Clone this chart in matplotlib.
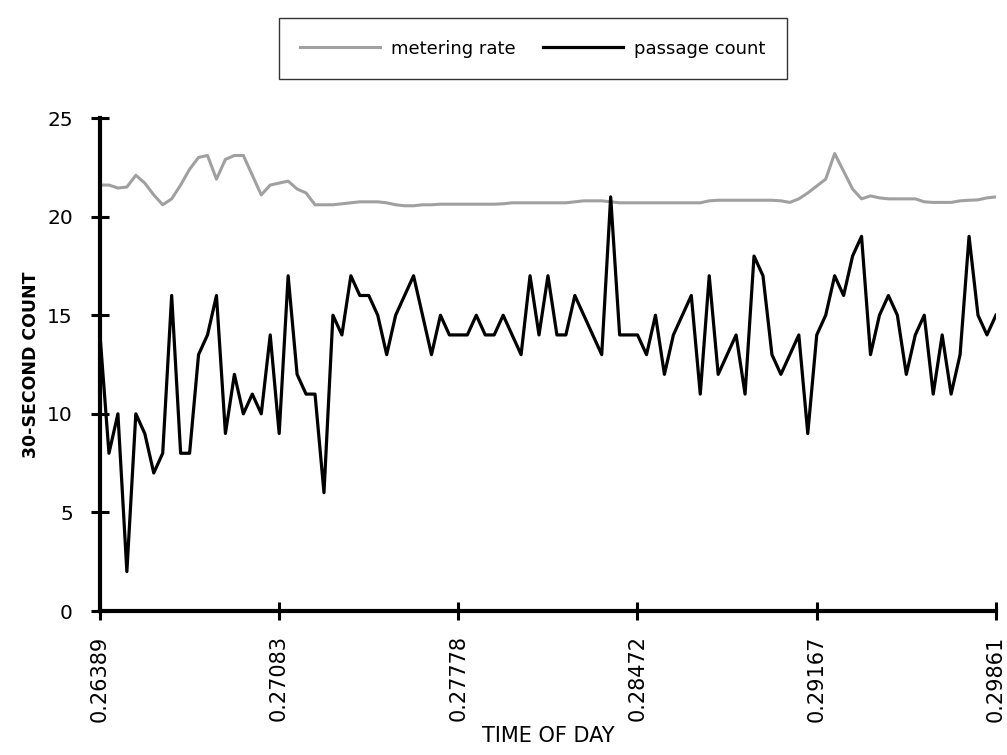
import numpy as np
import matplotlib
matplotlib.use('Agg')
import matplotlib.pyplot as plt

# 30-second samples from 6:20 to 7:10 (time of day as a fraction of a day)
start_time = 380 / 1440
interval = 30 / 86400
passage_count = [14, 8, 10, 2, 10, 9, 7, 8, 16, 8,
                 8, 13, 14, 16, 9, 12, 10, 11, 10, 14,
                 9, 17, 12, 11, 11, 6, 15, 14, 17, 16,
                 16, 15, 13, 15, 16, 17, 15, 13, 15, 14,
                 14, 14, 15, 14, 14, 15, 14, 13, 17, 14,
                 17, 14, 14, 16, 15, 14, 13, 21, 14, 14,
                 14, 13, 15, 12, 14, 15, 16, 11, 17, 12,
                 13, 14, 11, 18, 17, 13, 12, 13, 14, 9,
                 14, 15, 17, 16, 18, 19, 13, 15, 16, 15,
                 12, 14, 15, 11, 14, 11, 13, 19, 15, 14,
                 15]
metering_rate = [21.6, 21.6, 21.45, 21.5, 22.1, 21.7, 21.1, 20.6, 20.9, 21.6,
                 22.4, 23.0, 23.1, 21.9, 22.9, 23.1, 23.1, 22.1, 21.1, 21.6,
                 21.7, 21.8, 21.4, 21.2, 20.6, 20.6, 20.6, 20.65, 20.7, 20.75,
                 20.75, 20.75, 20.7, 20.6, 20.55, 20.55, 20.6, 20.6, 20.63, 20.63,
                 20.63, 20.63, 20.63, 20.63, 20.63, 20.65, 20.7, 20.7, 20.7, 20.7,
                 20.7, 20.7, 20.7, 20.75, 20.8, 20.8, 20.8, 20.75, 20.7, 20.7,
                 20.7, 20.7, 20.7, 20.7, 20.7, 20.7, 20.7, 20.7, 20.8, 20.83,
                 20.83, 20.83, 20.83, 20.83, 20.83, 20.83, 20.8, 20.72, 20.9, 21.2,
                 21.55, 21.9, 23.2, 22.3, 21.4, 20.9, 21.05, 20.95, 20.9, 20.9,
                 20.9, 20.9, 20.75, 20.72, 20.72, 20.72, 20.8, 20.83, 20.85, 20.95,
                 21.0]
tick_labels = ['0.26389', '0.27083', '0.27778', '0.28472', '0.29167', '0.29861']
y_ticks = [0, 5, 10, 15, 20, 25]

times = start_time + interval * np.arange(len(passage_count))

fig = plt.figure(figsize=(10.07, 7.55), dpi=100)
ax = fig.add_axes([0.0993, 0.1907, 0.8897, 0.653])

ax.plot(times, metering_rate, color='#a0a0a0', linewidth=2.2, label='metering rate')
ax.plot(times, passage_count, color='black', linewidth=2.3, label='passage count')

ax.set_xlim(times[0], times[-1])
ax.set_ylim(0, 25)
ax.set_xticks([float(t) for t in tick_labels])
ax.set_xticklabels(tick_labels, rotation=90, fontsize=15)
ax.set_yticks(y_ticks)
ax.set_yticklabels([str(v) for v in y_ticks], fontsize=14.5)
ax.tick_params(direction='inout', length=13, width=2.2)
ax.tick_params(axis='x', pad=11)
ax.tick_params(axis='y', pad=13)

for side in ['top', 'right']:
    ax.spines[side].set_visible(False)
for side in ['left', 'bottom']:
    ax.spines[side].set_linewidth(3)

ax.set_xlabel('TIME OF DAY', fontsize=15, labelpad=3)
ax.set_ylabel('30-SECOND COUNT', fontsize=12.5, fontweight='bold', labelpad=5)

leg = fig.legend(loc='upper center', bbox_to_anchor=(0.5293, 0.988), ncol=2,
                 fontsize=13, frameon=True, fancybox=False, shadow=False,
                 handlelength=4.4, handletextpad=0.65, columnspacing=1.5,
                 borderpad=1.2)
leg.get_frame().set_edgecolor('black')
leg.get_frame().set_linewidth(1.0)

plt.savefig('out.png', dpi=100)
